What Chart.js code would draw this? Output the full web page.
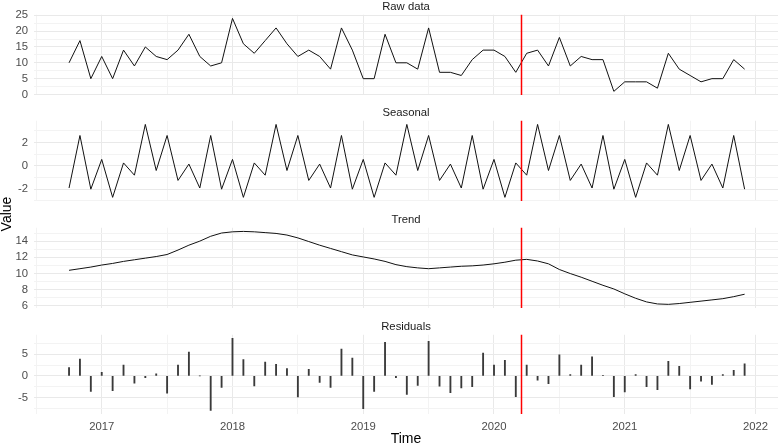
<!DOCTYPE html>
<html>
<head>
<meta charset="utf-8">
<title>Decomposition</title>
<script src="https://cdn.jsdelivr.net/npm/chart.js@4.4.1/dist/chart.umd.min.js"></script>
<style>
  html, body { margin: 0; padding: 0; background: #fff; }
  #wrap { position: relative; width: 778px; height: 446px; overflow: hidden;
          font-family: "Liberation Sans", Arial, sans-serif; }
  #wrap canvas { position: absolute; left: 0; }
  #ytitle { position: absolute; left: -24px; top: 206px; width: 60px; height: 16px;
            line-height: 16px; text-align: center; font-size: 14px; color: #000;
            transform: rotate(-90deg); }
</style>
</head>
<body>
<div id="wrap">
  <canvas id="raw" width="778" height="101" style="top:0px"></canvas>
  <canvas id="seasonal" width="778" height="101" style="top:106px"></canvas>
  <canvas id="trend" width="778" height="101" style="top:213px"></canvas>
  <canvas id="residuals" width="778" height="126" style="top:320px"></canvas>
  <div id="ytitle">Value</div>
</div>
<script>
// monthly time index of the series
var months = [
  '2016-10', '2016-11', '2016-12',
  '2017-01', '2017-02', '2017-03', '2017-04', '2017-05', '2017-06', '2017-07', '2017-08', '2017-09', '2017-10', '2017-11', '2017-12',
  '2018-01', '2018-02', '2018-03', '2018-04', '2018-05', '2018-06', '2018-07', '2018-08', '2018-09', '2018-10', '2018-11', '2018-12',
  '2019-01', '2019-02', '2019-03', '2019-04', '2019-05', '2019-06', '2019-07', '2019-08', '2019-09', '2019-10', '2019-11', '2019-12',
  '2020-01', '2020-02', '2020-03', '2020-04', '2020-05', '2020-06', '2020-07', '2020-08', '2020-09', '2020-10', '2020-11', '2020-12',
  '2021-01', '2021-02', '2021-03', '2021-04', '2021-05', '2021-06', '2021-07', '2021-08', '2021-09', '2021-10', '2021-11', '2021-12'
];

var rawData = [
  10, 17, 5, 12, 5, 14, 9, 15, 12, 11, 14, 19,
  12, 9, 10, 24, 16, 13, 17, 21, 16, 12, 14, 12,
  8, 21, 14, 5, 5, 19, 10, 10, 8, 21, 7, 7,
  6, 11, 14, 14, 12, 7, 13, 14, 9, 18, 9, 12,
  11, 11, 1, 4, 4, 4, 2, 13, 8, 6, 4, 5, 5, 11, 8
];

var seasonal = [
  -1.9, 2.6, -2.0, 0.55, -2.7, 0.25, -0.8, 3.55, -0.4, 2.6, -1.25, 0.15,
  -1.9, 2.6, -2.0, 0.55, -2.7, 0.25, -0.8, 3.55, -0.4, 2.6, -1.25, 0.15,
  -1.9, 2.6, -2.0, 0.55, -2.7, 0.25, -0.8, 3.55, -0.4, 2.6, -1.25, 0.15,
  -1.9, 2.6, -2.0, 0.55, -2.7, 0.25, -0.8, 3.55, -0.4, 2.6, -1.25, 0.15,
  -1.9, 2.6, -2.0, 0.55, -2.7, 0.25, -0.8, 3.55, -0.4, 2.6, -1.25, 0.15,
  -1.9, 2.6, -2.0
];

var trend = [
  10.4, 10.6, 10.8, 11.05, 11.25, 11.5, 11.7, 11.9, 12.1, 12.35, 12.9, 13.5,
  14.0, 14.6, 15.0, 15.15, 15.2, 15.15, 15.05, 14.95, 14.75, 14.4, 13.95, 13.5,
  13.1, 12.7, 12.3, 12.05, 11.8, 11.5, 11.1, 10.85, 10.7, 10.6, 10.7, 10.8,
  10.9, 10.95, 11.05, 11.2, 11.4, 11.65, 11.75, 11.55, 11.2, 10.5, 10.0, 9.55,
  9.05, 8.55, 8.1, 7.5, 6.95, 6.5, 6.25, 6.2, 6.3, 6.45, 6.6, 6.75, 6.9, 7.15, 7.45
];

var residuals = [
  1.9, 3.9, -3.6, 0.8, -3.4, 2.5, -1.7, -0.4, 0.5, -4.0, 2.5, 5.5,
  0.0, -8.0, -2.7, 8.7, 3.8, -2.3, 3.2, 2.7, 1.7, -4.9, 1.5, -1.5,
  -2.7, 6.2, 4.1, -7.6, -3.6, 7.8, -0.4, -4.3, -2.2, 8.0, -2.4, -3.9,
  -2.8, -2.5, 5.3, 2.5, 3.6, -4.8, 2.5, -1.0, -1.8, 4.9, 0.3, 2.5,
  4.4, 0.1, -4.8, -3.7, 0.3, -2.5, -3.2, 3.4, 2.2, -3.0, -1.2, -2.0, 0.3, 1.3, 2.8
];

// time of the red marker line
var breakTime = 2020.21;

// x range of every panel
var xMin = 2016.482;
var xMax = 2022.172;


// '2017-03' -> 2017.1667
function toTime(label) {
  var parts = label.split('-');
  return Number(parts[0]) + (Number(parts[1]) - 1) / 12;
}

function isMultiple(v, step) {
  var q = v / step;
  return Math.abs(q - Math.round(q)) < 1e-6;
}

// ggplot style 5% expansion of the data range
function padRange(values) {
  var lo = Math.min.apply(null, values);
  var hi = Math.max.apply(null, values);
  var pad = (hi - lo) * 0.05;
  return [lo - pad, hi + pad];
}

function points(values) {
  return values.map(function(v, i) {
    return { x: toTime(months[i]), y: v };
  });
}

function gridColor(major) {
  return function(ctx) {
    if (!ctx.tick) return '#ebebeb';
    return isMultiple(ctx.tick.value, major) ? '#e9e9e9' : '#f3f3f3';
  };
}

// red vertical marker across the whole panel
var breakLine = {
  id: 'breakLine',
  afterDatasetsDraw: function(chart) {
    var x = Math.round(chart.scales.x.getPixelForValue(breakTime)) + 0.5;
    var area = chart.chartArea;
    var ctx = chart.ctx;
    ctx.save();
    ctx.globalAlpha = 1;
    ctx.setLineDash([]);
    ctx.strokeStyle = 'rgb(255, 0, 0)';
    ctx.lineWidth = 1.5;
    ctx.beginPath();
    ctx.moveTo(x, area.top);
    ctx.lineTo(x, area.bottom);
    ctx.stroke();
    ctx.restore();
  }
};

function panelOptions(title, values, step, major, bottom) {
  var range = padRange(values);
  return {
    responsive: false,
    animation: false,
    devicePixelRatio: 1,
    layout: { padding: { left: 0, right: 0, top: 0, bottom: bottom ? 0 : 6 } },
    plugins: {
      legend: { display: false },
      tooltip: { enabled: false },
      title: {
        display: true, text: title, fullSize: false, color: '#1a1a1a',
        font: { size: 11.3, weight: 'normal' },
        padding: { top: 0, bottom: 1.2 }
      }
    },
    scales: {
      x: {
        type: 'linear', min: xMin, max: xMax, offset: false,
        border: { display: false },
        grid: { offset: false, drawTicks: false, color: gridColor(1), lineWidth: 1 },
        ticks: {
          display: bottom, stepSize: 0.5, includeBounds: false, autoSkip: false,
          maxRotation: 0, padding: 6, color: '#4d4d4d', font: { size: 11.3 },
          callback: function(v) { return isMultiple(v, 1) ? String(v) : ''; }
        },
        title: {
          display: bottom, text: 'Time', color: '#000',
          font: { size: 14, lineHeight: 1 }, padding: 0
        },
        afterFit: function(s) {
          s.height = bottom ? 32 : 0;
          s.paddingLeft = 0;
          s.paddingRight = 0;
        }
      },
      y: {
        type: 'linear', min: range[0], max: range[1],
        border: { display: false },
        grid: { drawTicks: false, color: gridColor(major), lineWidth: 1 },
        ticks: {
          stepSize: step, includeBounds: false, autoSkip: false,
          padding: 6, color: '#4d4d4d', font: { size: 11.3 },
          callback: function(v) { return isMultiple(v, major) ? String(v) : ''; }
        },
        afterFit: function(s) {
          s.width = 34;
          s.paddingTop = 0;
          s.paddingBottom = 0;
        }
      }
    }
  };
}

function lineSet(values) {
  return {
    data: points(values),
    borderColor: '#111',
    borderWidth: 1,
    pointRadius: 0,
    tension: 0,
    fill: false
  };
}


/*=============================================
        =            draw panels            =
=============================================*/

Chart.defaults.font.family = '"Liberation Sans", Arial, sans-serif';

new Chart(document.getElementById('raw'), {
  type: 'line',
  data: { datasets: [lineSet(rawData)] },
  options: panelOptions('Raw data', rawData, 2.5, 5, false),
  plugins: [breakLine]
});

new Chart(document.getElementById('seasonal'), {
  type: 'line',
  data: { datasets: [lineSet(seasonal)] },
  options: panelOptions('Seasonal', seasonal, 1, 2, false),
  plugins: [breakLine]
});

new Chart(document.getElementById('trend'), {
  type: 'line',
  data: { datasets: [lineSet(trend)] },
  options: panelOptions('Trend', trend, 1, 2, false),
  plugins: [breakLine]
});

new Chart(document.getElementById('residuals'), {
  type: 'bar',
  data: {
    datasets: [{
      data: points(residuals),
      backgroundColor: '#3a3a3a',
      borderWidth: 0,
      barThickness: 1.2
    }]
  },
  options: panelOptions('Residuals', residuals, 2.5, 5, true),
  plugins: [breakLine]
});
</script>
</body>
</html>
